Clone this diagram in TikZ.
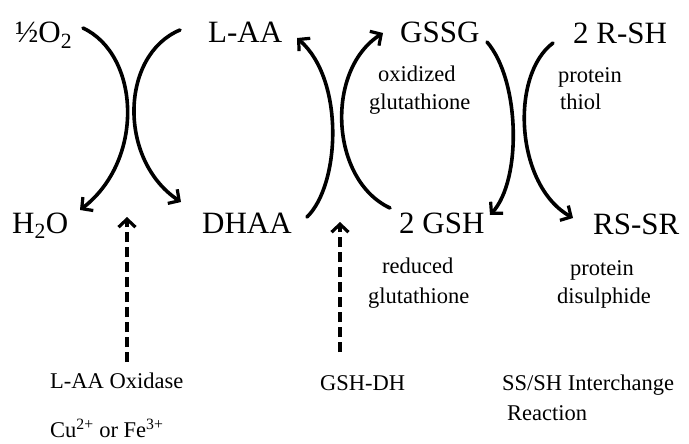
\documentclass[tikz,border=0pt]{standalone}
\usepackage{fontspec}
\setmainfont{Liberation Serif}
\usetikzlibrary{arrows.meta}
\begin{document}
\begin{tikzpicture}[x=1pt,y=-1pt,
  big/.style={anchor=base west,inner sep=0pt,font=\fontsize{31}{34}\selectfont},
  small/.style={anchor=base west,inner sep=0pt,font=\fontsize{22.5}{26}\selectfont},
  curvearrow/.style={line width=3.6pt,line cap=round,-{Straight Barb[length=8pt,width=17pt,line width=3.2pt]}},
  dasharrow/.style={line width=3.6pt,dash pattern=on 10pt off 5pt,-{Straight Barb[length=8pt,width=17pt,line width=3.2pt]}}]
\useasboundingbox (0,0) rectangle (689,444);
% main species
\node[big] (o2)   at (15,43)  {½O\textsubscript{2}};
\node[big] (laa)  at (208,43) {L-AA};
\node[big] (gssg) at (400,43) {GSSG};
\node[big] (rsh)  at (573,44) {2 R-SH};
\node[big] (h2o)  at (12,233) {H\textsubscript{2}O};
\node[big] (dhaa) at (202,233) {DHAA};
\node[big] (gsh)  at (399,233) {2 GSH};
\node[big] (rssr) at (593,234) {RS-SR};
% small labels
\node[small] (ox1) at (378,82)  {oxidized};
\node[small] (ox2) at (369,110) {glutathione};
\node[small] (pt1) at (558,83)  {protein};
\node[small] (pt2) at (560,110) {thiol};
\node[small] (rd1) at (382,273) {reduced};
\node[small] (rd2) at (368,303) {glutathione};
\node[small] (pd1) at (570,275) {protein};
\node[small] (pd2) at (557,303) {disulphide};
\node[small] (enz1) at (50,388) {L-AA Oxidase};
\node[small] (enz2) at (320,390) {GSH-DH};
\node[small] (enz3) at (502,390) {SS/SH Interchange};
\node[small] (enz3b) at (507,420) {Reaction};
\node[small] (cofac) at (50,437) {Cu\textsuperscript{2+} or Fe\textsuperscript{3+}};
% arc end points
\coordinate (a1s) at (83,28);   \coordinate (a1e) at (80,210);
\coordinate (a2s) at (180,30);  \coordinate (a2e) at (181,202);
\coordinate (a3s) at (307,217); \coordinate (a3e) at (297,38);
\coordinate (a4s) at (390,208); \coordinate (a4e) at (383,33);
\coordinate (a5s) at (487,42);  \coordinate (a5e) at (490,215);
\coordinate (a6s) at (553,43);  \coordinate (a6e) at (573,218);
\coordinate (d1s) at (127,362); \coordinate (d1e) at (127,217);
\coordinate (d2s) at (340,352); \coordinate (d2e) at (340,222);
% curved arrows
\draw[curvearrow] (a1s) .. controls (140,55) and (145,160) .. (a1e);
\draw[curvearrow] (a2s) .. controls (120,55) and (118,160) .. (a2e);
\draw[curvearrow] (a3s) .. controls (340,185) and (345,80) .. (a3e);
\draw[curvearrow] (a4s) .. controls (330,180) and (325,70) .. (a4e);
\draw[curvearrow] (a5s) .. controls (520,80) and (522,180) .. (a5e);
\draw[curvearrow] (a6s) .. controls (510,75) and (515,185) .. (a6e);
% dashed enzyme arrows
\draw[dasharrow] (d1s) -- (d1e);
\draw[dasharrow] (d2s) -- (d2e);
\end{tikzpicture}
\end{document}
